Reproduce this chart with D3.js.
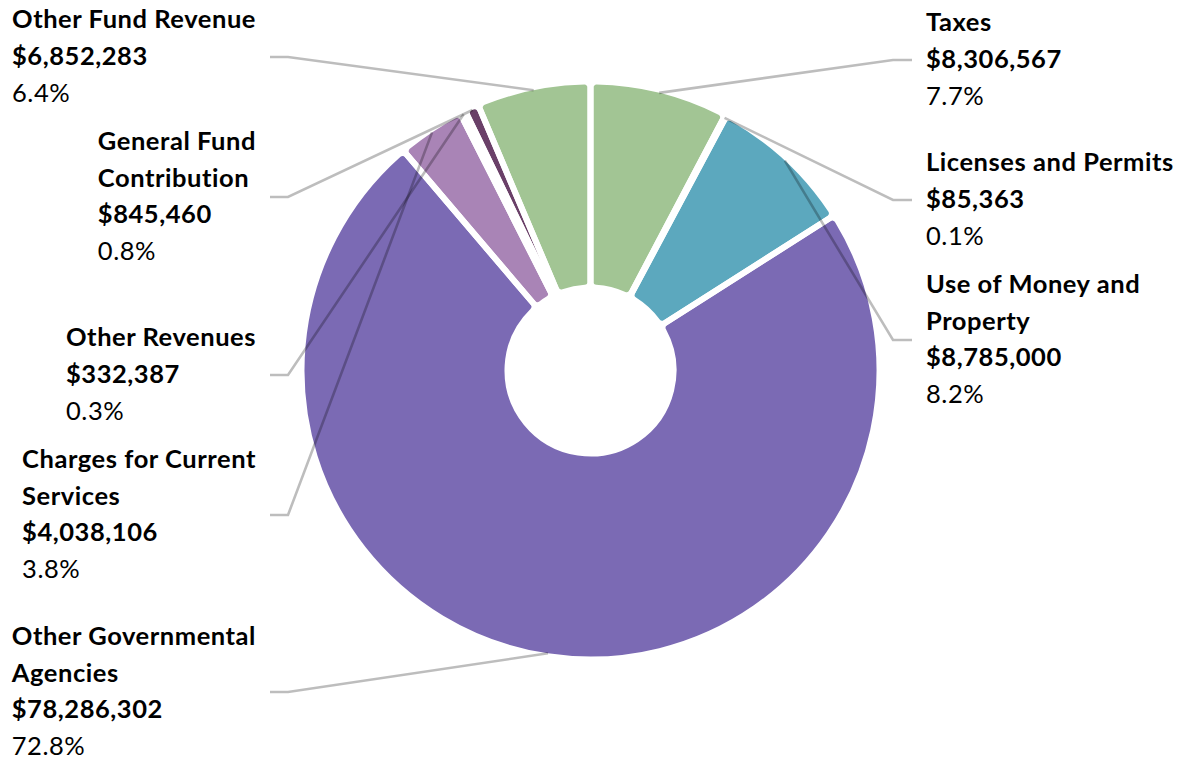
<!DOCTYPE html>
<html>
<head>
<meta charset="utf-8">
<script src="https://cdn.jsdelivr.net/npm/d3@7"></script>
<style>
  html, body { margin: 0; padding: 0; background: #ffffff; }
  svg { display: block; }
  text { font-family: Lato, "Open Sans", sans-serif; fill: #000; letter-spacing: 0.55px; }
</style>
</head>
<body>
<svg id="chart" width="1181" height="763"></svg>
<script>
// Revenue sources, clockwise from 12 o'clock
const categories = [
  "Taxes",
  "Licenses and Permits",
  "Use of Money and Property",
  "Other Governmental Agencies",
  "Charges for Current Services",
  "Other Revenues",
  "General Fund Contribution",
  "Other Fund Revenue"
];
// category names as they wrap in the callouts
const labelLines = [
  ["Taxes"],
  ["Licenses and Permits"],
  ["Use of Money and", "Property"],
  ["Other Governmental", "Agencies"],
  ["Charges for Current", "Services"],
  ["Other Revenues"],
  ["General Fund", "Contribution"],
  ["Other Fund Revenue"]
];
const amounts = [8306567, 85363, 8785000, 78286302, 4038106, 332387, 845460, 6852283];

// slice colours
const sliceColors = ["#A2C594", "#7FB9C9", "#5CA8BE", "#7B6AB4", "#A984B6", "#8E6A9C", "#6A4068", "#A2C594"];

// ---- layout ----
const cx = 590.5, cy = 370.5;
const outerR = 289, innerR = 83;   // fill radii; white 6px outline trims 3px off each edge
const leaderR = 286;
const fontSize = 25.5, lineStep = 36.8;
// callout anchor heights and sides
const calloutY = [60, 200, 340, 692, 515, 375, 197, 57];
const calloutSide = ["right", "right", "right", "left", "left", "left", "left", "left"];

const total = d3.sum(amounts);
const data = categories.map((c, i) => ({
  name: c, lines: labelLines[i], amount: amounts[i], color: sliceColors[i],
  y: calloutY[i], side: calloutSide[i]
}));

const fmtMoney = d3.format("$,.0f");
const fmtPct = d3.format(".1%");

const svg = d3.select("#chart");
const g = svg.append("g").attr("transform", `translate(${cx},${cy})`);

const pie = d3.pie().sort(null).value(d => d.amount);
const arcs = pie(data);
const arc = d3.arc().innerRadius(innerR).outerRadius(outerR).cornerRadius(6);

// fills first, then all white outlines on top so every gap is the full width
g.append("g").selectAll("path").data(arcs).join("path")
  .attr("d", arc)
  .attr("fill", d => d.data.color);
g.append("g").selectAll("path").data(arcs).join("path")
  .attr("d", arc)
  .attr("fill", "none")
  .attr("stroke", "#ffffff")
  .attr("stroke-width", 6)
  .attr("stroke-linejoin", "round");

// leader lines
const leaders = svg.append("g")
  .attr("fill", "none")
  .attr("stroke", "#000")
  .attr("stroke-opacity", 0.26)
  .attr("stroke-width", 2.6);

arcs.forEach(a => {
  const mid = (a.startAngle + a.endAngle) / 2;
  const sx = cx + leaderR * Math.sin(mid);
  const sy = cy - leaderR * Math.cos(mid);
  const y = a.data.y;
  const pts = a.data.side === "right"
    ? [[sx, sy], [893, y], [912, y]]
    : [[sx, sy], [288, y], [270, y]];
  leaders.append("path").attr("d", d3.line()(pts));
});

// callout text blocks
const labels = svg.append("g").attr("font-size", fontSize);
arcs.forEach(a => {
  const d = a.data;
  const rows = d.lines.map(t => ({ t, bold: true }))
    .concat([{ t: fmtMoney(d.amount), bold: true }, { t: fmtPct(d.amount / total), bold: false }]);
  const n = rows.length;
  const block = labels.append("g");
  const texts = block.selectAll("text").data(rows).join("text")
    .attr("x", 0)
    .attr("y", (r, i) => d.y + 8 + (i - (n - 1) / 2) * lineStep)
    .attr("font-weight", r => r.bold ? 700 : 400)
    .text(r => r.t);
  let width = 0;
  texts.each(function () { width = Math.max(width, this.getComputedTextLength()); });
  const x = d.side === "right" ? 926 : 256 - width;
  block.attr("transform", `translate(${x},0)`);
});
</script>
</body>
</html>
